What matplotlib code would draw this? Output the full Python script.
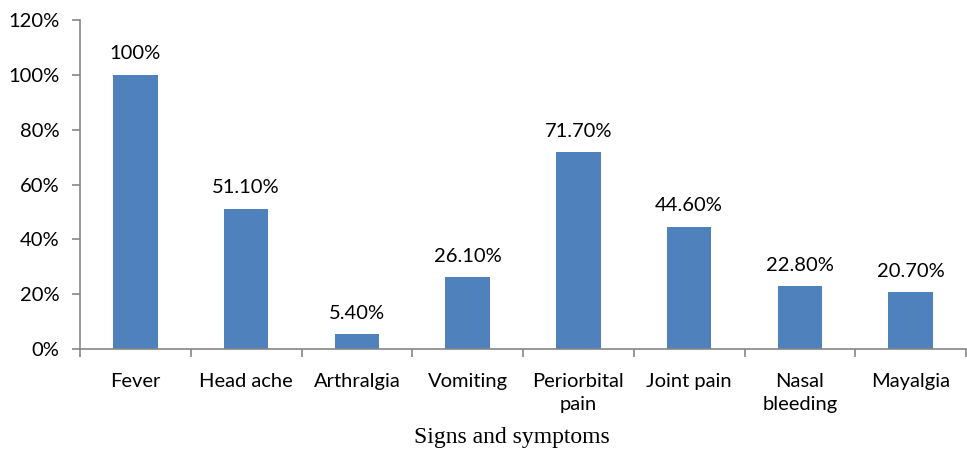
import matplotlib
matplotlib.use("Agg")
import matplotlib.pyplot as plt
from matplotlib.ticker import FixedLocator, FuncFormatter

categories = ["Fever", "Head ache", "Arthralgia", "Vomiting", "Periorbital\npain",
              "Joint pain", "Nasal\nbleeding", "Mayalgia"]
values = [100, 51.1, 5.4, 26.1, 71.7, 44.6, 22.8, 20.7]
labels = ["100%", "51.10%", "5.40%", "26.10%", "71.70%", "44.60%", "22.80%", "20.70%"]
yticks = [0, 20, 40, 60, 80, 100, 120]

W, H = 967, 457
fig = plt.figure(figsize=(W/100, H/100), dpi=100)
ax = fig.add_axes([80/W, (H-349)/H, (966-80)/W, (349-20)/H])

font = "Lato"
fs = 14.5
x = list(range(len(categories)))
ax.bar(x, values, width=0.4, color="#4F81BD", zorder=2)
for xi, v, lab in zip(x, values, labels):
    ax.annotate(lab, (xi, v), xytext=(0, 9), textcoords="offset points",
                ha="center", va="bottom", fontsize=fs, family=font, color="#000000")

ax.set_xlim(-0.5, len(categories) - 0.5)
ax.set_ylim(0, 120)
ax.set_yticks(yticks)
ax.yaxis.set_major_formatter(FuncFormatter(lambda v, p: f"{int(v)}%"))
ax.set_xticks(x)
ax.set_xticklabels(categories, family=font, fontsize=fs, linespacing=1.45)
ax.xaxis.set_minor_locator(FixedLocator([i + 0.5 for i in range(-1, len(categories))]))
ax.tick_params(axis="x", which="major", length=0, pad=17)
ax.tick_params(axis="x", which="minor", length=6, color="#868686", width=1.2)
ax.tick_params(axis="y", length=6, color="#868686", width=1.2, pad=9, labelsize=fs)
for t in ax.get_yticklabels():
    t.set_family(font)
for s in ["top", "right"]:
    ax.spines[s].set_visible(False)
for s in ["left", "bottom"]:
    ax.spines[s].set_color("#868686")
    ax.spines[s].set_linewidth(1.2)

fig.text(512 / W, (H - 438) / H, "Signs and symptoms", ha="center", va="center",
         family="Liberation Serif", fontsize=17)

fig.savefig("out.png", dpi=100)
